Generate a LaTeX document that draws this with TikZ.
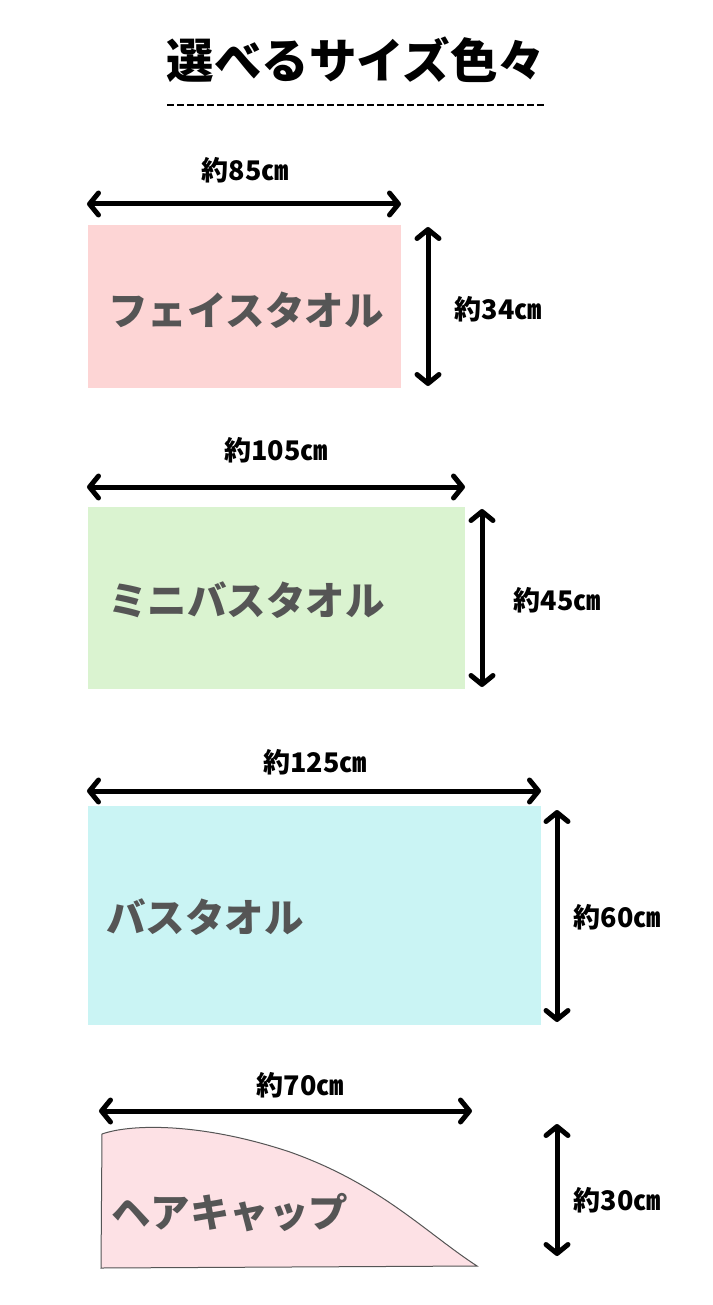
\documentclass[tikz,border=0pt]{standalone}
\usepackage{fontspec}
\setmainfont{Noto Sans CJK JP}
\usetikzlibrary{arrows.meta}
\definecolor{pinkA}{HTML}{FDD5D5}
\definecolor{greenA}{HTML}{DAF3D0}
\definecolor{cyanA}{HTML}{CAF4F4}
\definecolor{capPink}{HTML}{FDE1E5}
\definecolor{txtGray}{HTML}{555555}
\begin{document}
\begin{tikzpicture}[x=1pt,y=-1pt,
  dimarrow/.style={line width=5pt,{Straight Barb[length=9pt,width=22pt,line cap=round,line join=round]}-{Straight Barb[length=9pt,width=22pt,line cap=round,line join=round]}},
  dimlabel/.style={font=\fontsize{27}{30}\selectfont\bfseries,inner sep=0pt},
  boxlabel/.style={font=\fontsize{39.5}{42}\selectfont\bfseries,text=txtGray,inner sep=0pt,anchor=west},
  title/.style={font=\fontsize{47.5}{52}\selectfont\bfseries,inner sep=0pt}]
\useasboundingbox[fill=white] (0,0) rectangle (712,1305);
% title
\node[title] (title) at (356,60) {選べるサイズ色々};
\draw[line width=2pt,dash pattern=on 7pt off 3pt] (167,105) coordinate (dl) -- (545,105) coordinate (dr);
% face towel
\fill[pinkA] (88,225) rectangle (401,388);
\coordinate (a1l) at (87,204); \coordinate (a1r) at (401,204);
\draw[dimarrow] (a1l) -- (a1r);
\node[dimlabel] (l1w) at (245,170) {約85㎝};
\coordinate (a1t) at (428,227); \coordinate (a1b) at (428,386);
\draw[dimarrow] (a1t) -- (a1b);
\node[dimlabel] (l1h) at (498,309) {約34㎝};
\node[boxlabel] (b1) at (108,310) {フェイスタオル};
% mini bath towel
\fill[greenA] (88,507) rectangle (465,689);
\coordinate (a2l) at (87,487); \coordinate (a2r) at (465,487);
\draw[dimarrow] (a2l) -- (a2r);
\node[dimlabel] (l2w) at (276,450) {約105㎝};
\coordinate (a2t) at (482,509); \coordinate (a2b) at (482,687);
\draw[dimarrow] (a2t) -- (a2b);
\node[dimlabel] (l2h) at (557,600) {約45㎝};
\node[boxlabel] (b2) at (108,600) {ミニバスタオル};
% bath towel
\fill[cyanA] (88,806) rectangle (541,1025);
\coordinate (a3l) at (87,791); \coordinate (a3r) at (541,791);
\draw[dimarrow] (a3l) -- (a3r);
\node[dimlabel] (l3w) at (315,762) {約125㎝};
\coordinate (a3t) at (557,810); \coordinate (a3b) at (557,1022);
\draw[dimarrow] (a3t) -- (a3b);
\node[dimlabel] (l3h) at (617,917) {約60㎝};
\node[boxlabel] (b3) at (106,917) {バスタオル};
% hair cap
\draw[fill=capPink,draw=txtGray,line width=1pt]
  (101,1268) -- (102,1134)
  .. controls (130,1124) and (200,1122) .. (290,1152)
  .. controls (380,1184) and (425,1232) .. (477,1266)
  -- cycle;
\coordinate (a4l) at (99,1111); \coordinate (a4r) at (472,1111);
\draw[dimarrow] (a4l) -- (a4r);
\node[dimlabel] (l4w) at (300,1085) {約70㎝};
\coordinate (a4t) at (557,1124); \coordinate (a4b) at (557,1256);
\draw[dimarrow] (a4t) -- (a4b);
\node[dimlabel] (l4h) at (617,1200) {約30㎝};
\node[boxlabel] (b4) at (111,1213) {ヘアキャップ};
\end{tikzpicture}
\end{document}
